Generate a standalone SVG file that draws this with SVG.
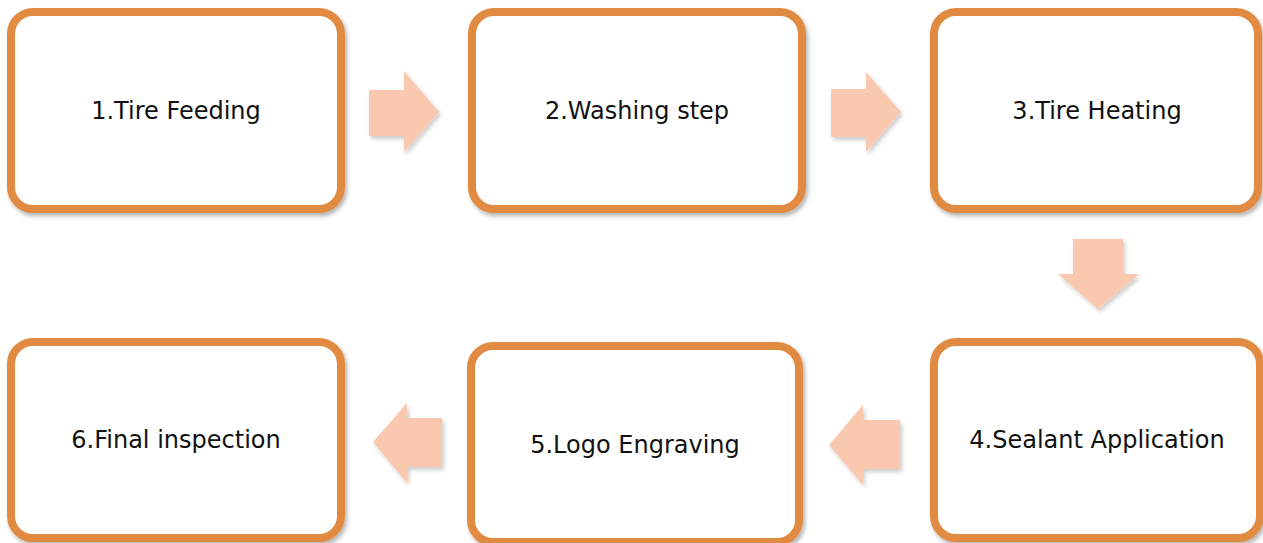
<svg xmlns="http://www.w3.org/2000/svg" width="1263" height="543" viewBox="0 0 1263 543">
<defs>
<style>
.box{fill:#ffffff;stroke:#E08A42;stroke-width:8;filter:url(#sh)}
.lbl{font-family:"DejaVu Sans","Liberation Sans",sans-serif;font-size:24px;fill:#111111;text-anchor:middle}
.arr{fill:#F9C8AE;filter:url(#sh2)}
</style>
<filter id="sh" x="-5%" y="-5%" width="112%" height="115%">
<feDropShadow dx="2" dy="3" stdDeviation="2" flood-color="#000000" flood-opacity="0.3"/>
</filter>
<filter id="sh2" x="-10%" y="-10%" width="130%" height="130%">
<feDropShadow dx="2" dy="3" stdDeviation="2" flood-color="#000000" flood-opacity="0.2"/>
</filter>
</defs>
<rect width="1263" height="543" fill="#ffffff"/>
<g id="node1"><rect class="box" x="11" y="12" width="330" height="197" rx="22"/><text class="lbl" x="176" y="119">1.Tire Feeding</text></g>
<g id="node2"><rect class="box" x="472" y="12" width="330" height="197" rx="22"/><text class="lbl" x="637" y="119">2.Washing step</text></g>
<g id="node3"><rect class="box" x="934" y="12" width="324" height="197" rx="22"/><text class="lbl" x="1097" y="119">3.Tire Heating</text></g>
<g id="node4"><rect class="box" x="934" y="342" width="326" height="196" rx="22"/><text class="lbl" x="1097" y="448">4.Sealant Application</text></g>
<g id="node5"><rect class="box" x="471" y="346" width="328" height="196" rx="22"/><text class="lbl" x="635" y="453">5.Logo Engraving</text></g>
<g id="node6"><rect class="box" x="11" y="342" width="330" height="196" rx="22"/><text class="lbl" x="176" y="448">6.Final inspection</text></g>
<g id="connectors">
<polygon class="arr" points="369,90 404,90 404,71 439,112 404,152 404,136 369,136"/>
<polygon class="arr" points="831,89 866,89 866,72 901,112 866,152 866,137 831,137"/>
<polygon class="arr" points="1073,239 1123,239 1123,274 1139,274 1098,309 1058,274 1073,274"/>
<polygon class="arr" points="900,420 863,420 863,405 829,445 863,485 863,469 900,469"/>
<polygon class="arr" points="442,418 407,418 407,403 373,442 407,483 407,467 442,467"/>
</g>
</svg>
